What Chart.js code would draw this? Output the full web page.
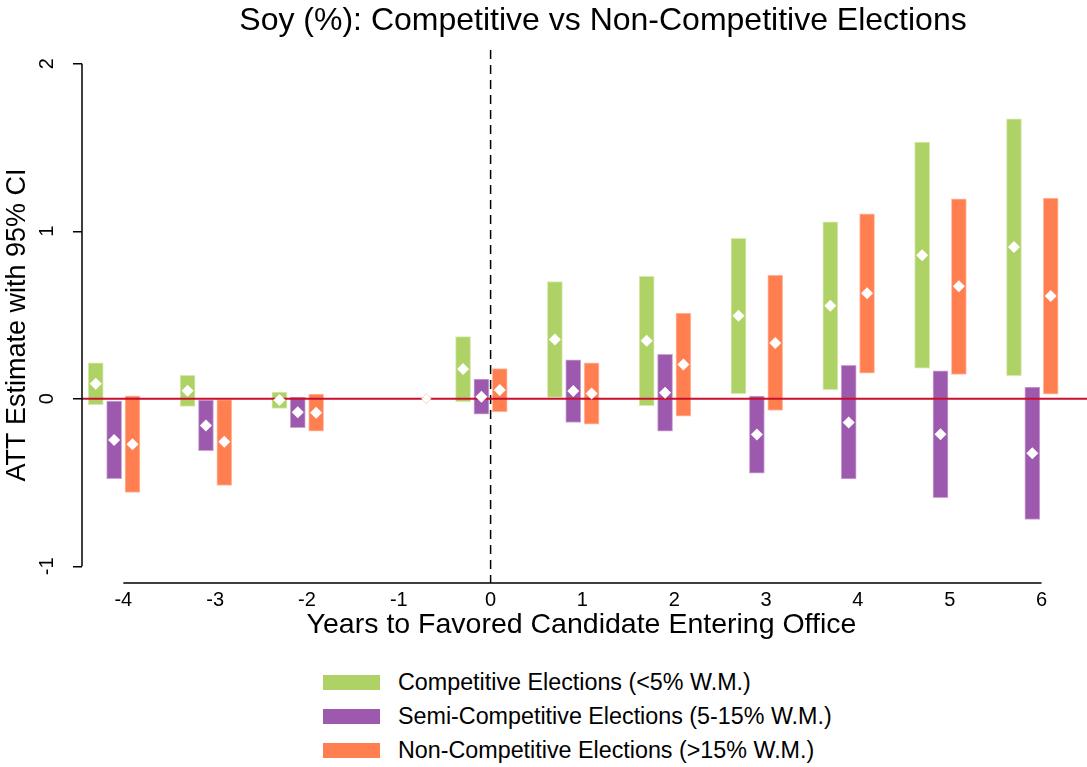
<!DOCTYPE html>
<html>
<head>
<meta charset="utf-8">
<script src="https://cdn.jsdelivr.net/npm/chart.js@4.4.0/dist/chart.umd.min.js"></script>
<style>
  html, body { margin: 0; padding: 0; background: #fff; }
  body { width: 1087px; height: 767px; overflow: hidden; font-family: "Liberation Sans", Arial, sans-serif; }
  #wrap { position: relative; width: 1087px; height: 650px; }
  #legend { position: absolute; left: 323px; top: 665px; }
  .item { display: flex; align-items: center; height: 34px; }
  .box { width: 57px; height: 15px; margin-right: 18px; }
  .lbl { font-size: 23.3px; color: #000; }
</style>
</head>
<body>
<div id="wrap"><canvas id="myChart"></canvas></div>
<div id="legend"></div>
<script>
// years relative to the favored candidate taking office (-1 is the reference year)
var periods = [-4, -3, -2, 0, 1, 2, 3, 4, 5, 6];
var xTicks = [-4, -3, -2, -1, 0, 1, 2, 3, 4, 5, 6];
var yTicks = [-1, 0, 1, 2];

// competitive elections (<5% W.M.)
var compEst = [0.09, 0.048, -0.008, 0.178, 0.353, 0.347, 0.495, 0.555, 0.856, 0.906];
var compLo  = [-0.035, -0.046, -0.058, -0.018, 0.008, -0.042, 0.030, 0.054, 0.182, 0.138];
var compHi  = [0.215, 0.140, 0.040, 0.371, 0.700, 0.731, 0.958, 1.056, 1.533, 1.671];

// semi-competitive elections (5-15% W.M.)
var semiEst = [-0.247, -0.160, -0.080, 0.012, 0.046, 0.036, -0.214, -0.142, -0.212, -0.325];
var semiLo  = [-0.477, -0.310, -0.172, -0.092, -0.142, -0.194, -0.445, -0.479, -0.591, -0.720];
var semiHi  = [-0.014, -0.008, 0.010, 0.118, 0.232, 0.265, 0.016, 0.200, 0.166, 0.070];

// non-competitive elections (>15% W.M.)
var nonEst = [-0.271, -0.257, -0.084, 0.052, 0.032, 0.204, 0.333, 0.630, 0.671, 0.613];
var nonLo  = [-0.559, -0.517, -0.194, -0.078, -0.152, -0.104, -0.070, 0.152, 0.146, 0.028];
var nonHi  = [0.018, 0.000, 0.028, 0.180, 0.214, 0.511, 0.738, 1.104, 1.194, 1.198];

var refPeriod = -1;
var refValue = 0;

var titleText = 'Soy (%): Competitive vs Non-Competitive Elections';
var yTitleText = 'ATT Estimate with 95% CI';

var series = [
    { label: 'Competitive Elections (<5% W.M.)', est: compEst, lo: compLo, hi: compHi, off: -0.3, color: '#afd266', edge: '#d4ebb0' },
    { label: 'Semi-Competitive Elections (5-15% W.M.)', est: semiEst, lo: semiLo, hi: semiHi, off: -0.1, color: '#9d59ae', edge: '#c9a6d2' },
    { label: 'Non-Competitive Elections (>15% W.M.)', est: nonEst, lo: nonLo, hi: nonHi, off: 0.1, color: '#ff7f50', edge: '#ffc0a8' }
];

var datasets = [];
series.forEach(function (s) {
    datasets.push({
        type: 'bar',
        label: s.label,
        data: periods.map(function (p, i) { return { x: p + s.off, y: [s.lo[i], s.hi[i]] }; }),
        backgroundColor: s.color,
        borderColor: s.edge,
        borderWidth: 1,
        borderSkipped: false,
        barThickness: 15,
        grouped: false,
        order: 3
    });
});
series.forEach(function (s) {
    datasets.push({
        type: 'scatter',
        label: s.label + ' est',
        data: periods.map(function (p, i) { return { x: p + s.off, y: s.est[i] }; }),
        pointStyle: 'rectRot',
        pointRadius: 6,
        backgroundColor: '#ffffff',
        borderWidth: 0,
        order: 1
    });
});
// reference year marker
datasets.push({
    type: 'scatter',
    label: 'ref',
    data: [{ x: refPeriod + 0.3, y: refValue }],
    pointStyle: 'rectRot',
    pointRadius: 5,
    backgroundColor: '#ffffff',
    borderColor: 'rgba(255,127,80,0.35)',
    borderWidth: 1,
    order: 1
});

var zeroDrawn = false;
var guides = {
    id: 'guides',
    beforeDatasetsDraw: function () { zeroDrawn = false; },
    beforeDatasetDraw: function (chart, args) {
        if (zeroDrawn || args.meta.type !== 'scatter') return;
        zeroDrawn = true;
        var ctx = chart.ctx, x = chart.scales.x, y = chart.scales.y, a = chart.chartArea;
        ctx.save();
        // vertical dashed line at year 0
        ctx.strokeStyle = '#000';
        ctx.lineWidth = 1.5;
        ctx.setLineDash([9, 6]);
        ctx.beginPath();
        ctx.moveTo(x.getPixelForValue(0), a.top + 3);
        ctx.lineTo(x.getPixelForValue(0), a.bottom);
        ctx.stroke();
        ctx.setLineDash([]);
        // zero line
        ctx.strokeStyle = '#c8102e';
        ctx.lineWidth = 2.2;
        ctx.beginPath();
        ctx.moveTo(a.left, y.getPixelForValue(0));
        ctx.lineTo(chart.width, y.getPixelForValue(0));
        ctx.stroke();
        ctx.restore();
    },
    afterDatasetsDraw: function (chart) {
        var ctx = chart.ctx, x = chart.scales.x, y = chart.scales.y, a = chart.chartArea;
        ctx.save();
        ctx.strokeStyle = '#000';
        ctx.lineWidth = 1.5;
        ctx.beginPath();
        ctx.moveTo(a.left, y.getPixelForValue(yTicks[0]));
        ctx.lineTo(a.left, y.getPixelForValue(yTicks[yTicks.length - 1]));
        ctx.moveTo(x.getPixelForValue(xTicks[0]), a.bottom);
        ctx.lineTo(x.getPixelForValue(xTicks[xTicks.length - 1]), a.bottom);
        ctx.stroke();
        ctx.fillStyle = '#000';
        ctx.textAlign = 'center';
        ctx.textBaseline = 'middle';
        // title
        ctx.font = '32px "Liberation Sans", Arial, sans-serif';
        ctx.fillText(titleText, 603, 21);
        // y axis title
        ctx.font = '27px "Liberation Sans", Arial, sans-serif';
        ctx.translate(18, 325);
        ctx.rotate(-Math.PI / 2);
        ctx.fillText(yTitleText, 0, 0);
        ctx.restore();
    }
};

Chart.defaults.font.family = '"Liberation Sans", Arial, sans-serif';
Chart.defaults.color = '#000';

var ctx = document.getElementById('myChart').getContext('2d');
var myChart = new Chart(ctx, {
    type: 'bar',
    data: { datasets: datasets },
    options: {
        responsive: true,
        maintainAspectRatio: false,
        animation: false,
        layout: { padding: { top: 47 } },
        plugins: {
            legend: { display: false },
            tooltip: { enabled: false },
            title: { display: false }
        },
        scales: {
            x: {
                type: 'linear',
                offset: false,
                min: -4.45,
                max: 6.43,
                afterBuildTicks: function (s) { s.ticks = xTicks.map(function (v) { return { value: v }; }); },
                afterFit: function (s) { s.height = 67; s.paddingLeft = 0; s.paddingRight = 0; },
                grid: { display: false, drawTicks: false },
                border: { display: false },
                ticks: { padding: 5, font: { size: 20 }, color: '#000', maxRotation: 0, autoSkip: false },
                title: {
                    display: true,
                    text: 'Years to Favored Candidate Entering Office',
                    font: { size: 28.5 },
                    color: '#000',
                    padding: { top: 0, bottom: 8 }
                }
            },
            y: {
                min: -1.1,
                max: 2.1,
                afterBuildTicks: function (s) { s.ticks = yTicks.map(function (v) { return { value: v }; }); },
                afterFit: function (s) { s.width = 82; },
                grid: { drawOnChartArea: false, drawTicks: true, tickLength: 9, color: '#000', lineWidth: 1.5 },
                border: { display: false },
                ticks: { minRotation: 90, maxRotation: 90, crossAlign: 'center', padding: 17, font: { size: 20 }, color: '#000' },
                title: { display: false }
            }
        }
    },
    plugins: [guides]
});

// legend, one entry per line under the plot
var legend = document.getElementById('legend');
myChart.data.datasets.forEach(function (d) {
    if (d.type !== 'bar') return;
    var row = document.createElement('div');
    row.className = 'item';
    row.innerHTML = '<span class="box" style="background:' + d.backgroundColor + '"></span><span class="lbl"></span>';
    row.lastChild.textContent = d.label;
    legend.appendChild(row);
});
</script>
</body>
</html>
